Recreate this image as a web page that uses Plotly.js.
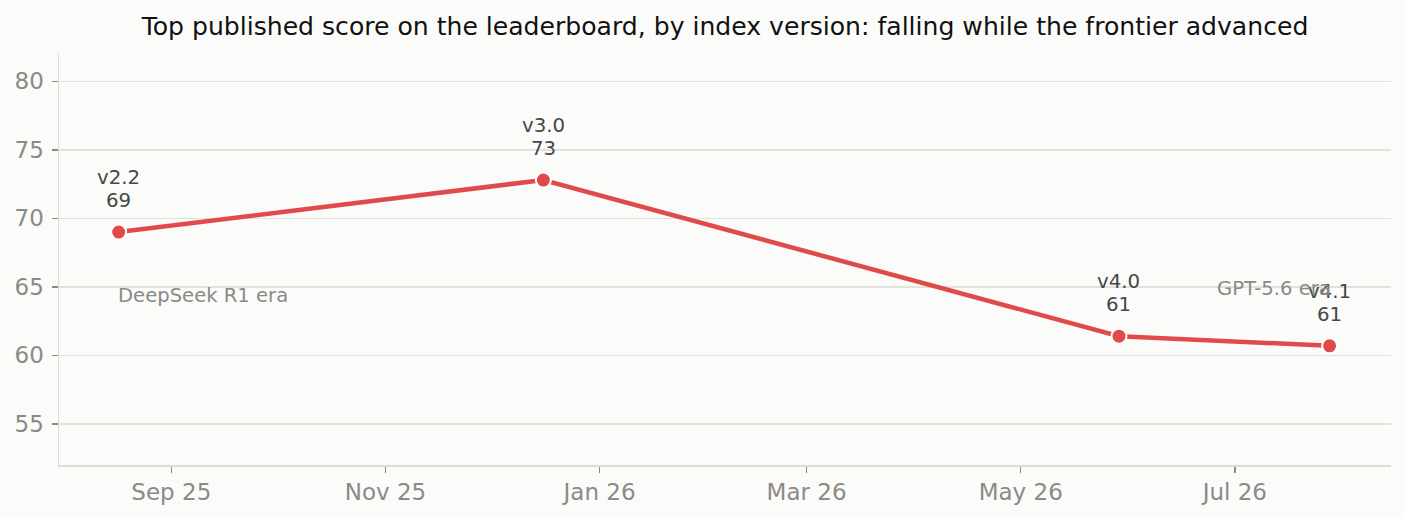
<!DOCTYPE html>
<html>
<head>
<meta charset="utf-8">
<script src="https://cdn.plot.ly/plotly-3.0.1.min.js"></script>
<style>
  html, body { margin: 0; padding: 0; background: #fbfbf9; }
  #chart { width: 1405px; height: 518px; }
</style>
</head>
<body>
<div id="chart"></div>
<script>
// ---- data ----
const releaseDates = ['2025-08-17', '2025-12-16', '2026-05-29', '2026-07-28'];
const versions = ['v2.2', 'v3.0', 'v4.0', 'v4.1'];
const topScores = [69.0, 72.8, 61.4, 60.7];
const scoreLabels = ['69', '73', '61', '61'];
const eraLabels = ['DeepSeek R1 era', 'GPT-5.6 era'];
const eraDates = ['2025-08-17', '2026-06-26'];
const eraY = [64.35, 64.9];
const titleText = 'Top published score on the leaderboard, by index version: falling while the frontier advanced';

const FONT = 'DejaVu Sans, Liberation Sans, sans-serif';
const RED = '#e14a4a';

const trace = {
  x: releaseDates,
  y: topScores,
  type: 'scatter',
  mode: 'lines+markers',
  line: { color: RED, width: 4.5 },
  marker: { color: RED, size: 15, line: { color: '#ffffff', width: 2 } },
  hoverinfo: 'skip',
  cliponaxis: false
};

const annotations = [];
releaseDates.forEach((d, i) => {
  annotations.push({
    x: d, y: topScores[i], xref: 'x', yref: 'y',
    text: versions[i], showarrow: false,
    xanchor: 'center', yanchor: 'middle', yshift: 54.5,
    font: { family: FONT, size: 19.8, color: '#474747' }
  });
  annotations.push({
    x: d, y: topScores[i], xref: 'x', yref: 'y',
    text: scoreLabels[i], showarrow: false,
    xanchor: 'center', yanchor: 'middle', yshift: 31.5,
    font: { family: FONT, size: 19.8, color: '#474747' }
  });
});
eraLabels.forEach((t, i) => {
  annotations.push({
    x: eraDates[i], y: eraY[i], xref: 'x', yref: 'y',
    text: t, showarrow: false,
    xanchor: 'left', yanchor: 'middle', xshift: -2.5,
    font: { family: FONT, size: 19.6, color: '#8a8a86' }
  });
});

const layout = {
  width: 1405, height: 518,
  paper_bgcolor: '#fbfbf9', plot_bgcolor: '#fbfbf9',
  margin: { l: 59, r: 14, t: 54, b: 53 },
  showlegend: false,
  title: {
    text: titleText, x: 0.5, xref: 'paper', xanchor: 'center', y: 0.95, yanchor: 'middle',
    yref: 'container',
    font: { family: FONT, size: 25.1, color: '#111111' }
  },
  xaxis: {
    type: 'date',
    range: ['2025-07-31', '2026-08-14 12:00'],
    tick0: '2025-09-01', dtick: 'M2', tickformat: '%b %y',
    showgrid: false, zeroline: false,
    showline: true, linecolor: '#dcdcd6', linewidth: 1.5,
    ticks: 'outside', ticklen: 6, tickwidth: 1.5, tickcolor: '#8a8a86',
    tickfont: { family: FONT, size: 23, color: '#8a8a86' }
  },
  yaxis: {
    range: [52, 82],
    tick0: 55, dtick: 5,
    showgrid: true, gridcolor: '#e2e2dd', gridwidth: 1.5,
    zeroline: false,
    showline: true, linecolor: '#dcdcd6', linewidth: 1.5,
    ticks: 'outside', ticklen: 6, tickwidth: 1.5, tickcolor: '#8a8a86',
    ticklabelstandoff: 3,
    tickfont: { family: FONT, size: 23, color: '#8a8a86' }
  },
  annotations: annotations
};

Plotly.newPlot('chart', [trace], layout, { displayModeBar: false, staticPlot: true });
</script>
</body>
</html>
